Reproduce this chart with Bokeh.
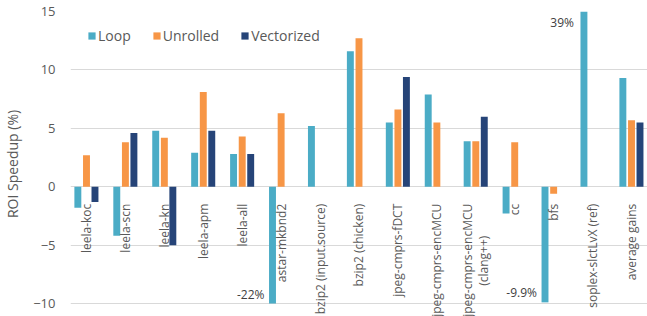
import math
from bokeh.plotting import figure
from bokeh.models import (ColumnDataSource, Range1d, FactorRange, FixedTicker,
                          LabelSet, Legend, LegendItem)
from bokeh.core.properties import value
from bokeh.transform import dodge
from bokeh.embed import file_html
from bokeh.resources import INLINE

NAN = float("nan")

categories = ["leela-koc", "leela-scn", "leela-kn", "leela-apm", "leela-all",
              "astar-mkbnd2", "bzip2 (input.source)", "bzip2 (chicken)",
              "jpeg-cmprs-fDCT", "jpeg-cmprs-encMCU",
              "jpeg-cmprs-encMCU (clang++)", "cc", "bfs",
              "soplex-slctLvX (ref)", "average gains"]
tick_labels = ["leela-koc", "leela-scn", "leela-kn", "leela-apm", "leela-all",
               "astar-mkbnd2", "bzip2 (input.source)", "bzip2 (chicken)",
               "jpeg-cmprs-fDCT", "jpeg-cmprs-encMCU",
               "jpeg-cmprs-encMCU\n(clang++)", "cc", "bfs",
               "soplex-slctLvX (ref)", "average gains"]
loop = [-1.8, -4.2, 4.8, 2.9, 2.8, -22.0, 5.2, 11.6, 5.5, 7.9, 3.9, -2.3, -9.9, 39.0, 9.3]
unrolled = [2.7, 3.8, 4.2, 8.1, 4.3, 6.3, NAN, 12.7, 6.6, 5.5, 3.9, 3.8, -0.6, NAN, 5.7]
vectorized = [-1.3, 4.6, -5.0, 4.8, 2.8, NAN, NAN, NAN, 9.4, NAN, 6.0, NAN, NAN, NAN, 5.5]
# Loop bars that carry a value label (they reach the edge of the axis)
loop_labelled = ["astar-mkbnd2", "bfs", "soplex-slctLvX (ref)"]
series_names = ["Loop", "Unrolled", "Vectorized"]
colors = ["#4bacc6", "#f79646", "#264478"]
y_ticks = [-10, -5, 0, 5, 10, 15]
Y_MIN, Y_MAX = -10, 15


def clip(vals):
    return [v if v != v else max(Y_MIN, min(Y_MAX, v)) for v in vals]


FONT = "Open Sans"
GREY = "#595959"
LAB_PX = 12          # category label font size
LAB_GAP = 17         # gap between zero line and label end
LINE_STEP = 16       # distance between the two lines of a wrapped label

line1 = [t.split("\n")[0] for t in tick_labels]
line2 = [t.split("\n")[1] if "\n" in t else "" for t in tick_labels]
x_off1 = [-LINE_STEP / 2 if s else 0 for s in line2]

src = ColumnDataSource(dict(cat=categories, l1=line1, l2=line2, xo1=x_off1,
                            Loop=clip(loop), Unrolled=clip(unrolled),
                            Vectorized=clip(vectorized),
                            zero=[0] * len(categories)))

# the frame reaches a little below -10 so the long category labels are not cut;
# the category range is trimmed slightly so the last group sits at the right edge
p = figure(x_range=FactorRange(*categories, range_padding=-0.0119),
           y_range=Range1d(Y_MIN - 1.11, Y_MAX),
           width=647, height=316, output_backend="svg", toolbar_location=None,
           x_axis_location=None, min_border_left=63, min_border_right=0,
           min_border_top=11, min_border_bottom=0)
p.outline_line_color = None
p.background_fill_color = "white"
p.border_fill_color = "white"
p.xgrid.visible = False
p.ygrid.grid_line_color = "#d9d9d9"
p.ygrid.grid_line_width = 1
p.yaxis.ticker = FixedTicker(ticks=y_ticks)
p.yaxis.axis_line_color = None
p.yaxis.major_tick_line_color = None
p.yaxis.minor_tick_line_color = None
p.yaxis.major_tick_out = 0
p.yaxis.major_tick_in = 0
p.yaxis.major_label_standoff = 15
p.yaxis.major_label_text_font = FONT
p.yaxis.major_label_text_font_size = "13px"
p.yaxis.major_label_text_color = GREY
p.yaxis.axis_label = "ROI Speedup (%)"
p.yaxis.axis_label_text_font = FONT
p.yaxis.axis_label_text_font_size = "14px"
p.yaxis.axis_label_text_font_style = "normal"
p.yaxis.axis_label_text_color = GREY
p.yaxis.axis_label_standoff = 8

offsets = [-0.222, 0.0, 0.218]
bar_w = 0.178
renderers = []
for name, col, off in zip(series_names, colors, offsets):
    r = p.vbar(x=dodge("cat", off, range=p.x_range), top=name, bottom=0,
               width=bar_w, source=src, fill_color=col, line_color=None)
    renderers.append(r)

# category labels along the zero line (first line)
p.add_layout(LabelSet(x="cat", y="zero", text="l1", source=src,
                      angle=math.pi / 2, text_align="right",
                      text_baseline="middle", x_offset="xo1", y_offset=-LAB_GAP,
                      text_font=value(FONT), text_font_size=value(f"{LAB_PX}px"),
                      text_color=value(GREY)))
# second line of wrapped labels, centred on the first line
# (half of the approximate length of "jpeg-cmprs-encMCU" at 12px)
p.add_layout(LabelSet(x="cat", y="zero", text="l2", source=src,
                      angle=math.pi / 2, text_align="center",
                      text_baseline="middle", x_offset=LINE_STEP / 2,
                      y_offset=-LAB_GAP - 57,
                      text_font=value(FONT), text_font_size=value(f"{LAB_PX}px"),
                      text_color=value(GREY)))

# value labels for Loop bars that reach the axis limits (beside the clipped end)
hi_cat, hi_y, hi_txt, lo_cat, lo_y, lo_txt = [], [], [], [], [], []
for c, v in zip(categories, loop):
    if c not in loop_labelled:
        continue
    if v > 0:
        hi_cat.append(c); hi_y.append(min(v, Y_MAX)); hi_txt.append(f"{v:g}%")
    else:
        lo_cat.append(c); lo_y.append(max(v, Y_MIN)); lo_txt.append(f"{v:g}%")
hi_src = ColumnDataSource(dict(cat=hi_cat, y=hi_y, t=hi_txt))
lo_src = ColumnDataSource(dict(cat=lo_cat, y=lo_y, t=lo_txt))
p.add_layout(LabelSet(x=dodge("cat", offsets[0], range=p.x_range), y="y", text="t",
                      source=hi_src, text_align="right", text_baseline="top",
                      x_offset=-10, y_offset=-2, text_font=value(FONT),
                      text_font_size=value("12px"), text_color=value("#404040")))
p.add_layout(LabelSet(x=dodge("cat", offsets[0], range=p.x_range), y="y", text="t",
                      source=lo_src, text_align="right", text_baseline="bottom",
                      x_offset=-8, y_offset=1, text_font=value(FONT),
                      text_font_size=value("12px"), text_color=value("#404040")))

legend = Legend(items=[LegendItem(label=n, renderers=[r]) for n, r in zip(series_names, renderers)],
                orientation="horizontal", location=(17, 271),
                glyph_width=9, glyph_height=9, label_height=9,
                label_text_line_height=0.6,
                label_standoff=2, spacing=21,
                padding=0, margin=0, border_line_color=None,
                background_fill_alpha=0,
                label_text_font=FONT, label_text_font_size="14px",
                label_text_color=GREY, label_text_baseline="middle")
p.add_layout(legend)

open("out.html", "w").write(file_html(p, INLINE))
